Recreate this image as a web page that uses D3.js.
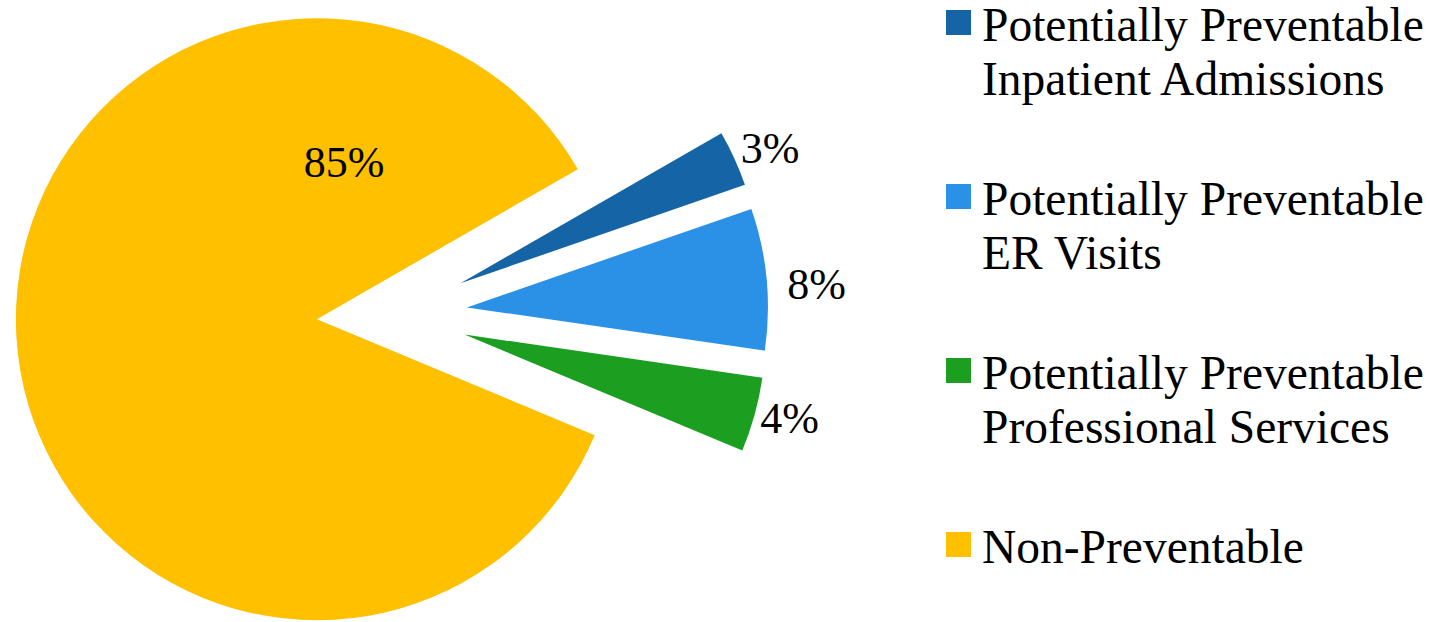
<!DOCTYPE html>
<html>
<head>
<meta charset="utf-8">
<script src="https://cdn.jsdelivr.net/npm/d3@7"></script>
<style>
  html, body { margin: 0; padding: 0; background: #fff; }
  svg { display: block; }
</style>
</head>
<body>
<svg id="chart" width="1440" height="622"></svg>
<script>
// ---- data ----
const categories = [
  "Potentially Preventable Inpatient Admissions",
  "Potentially Preventable ER Visits",
  "Potentially Preventable Professional Services",
  "Non-Preventable"
];
const legendLines = [
  ["Potentially Preventable", "Inpatient Admissions"],
  ["Potentially Preventable", "ER Visits"],
  ["Potentially Preventable", "Professional Services"],
  ["Non-Preventable"]
];
const values = [3.0, 7.6, 4.0, 85.4];
const valueLabels = ["3%", "8%", "4%", "85%"];
const colors = ["#1464A6", "#2A91E7", "#1C9F21", "#FFC000"];

// ---- layout ----
const FONT = "Liberation Serif";
const cx = 392, cy = 314.5, R = 301;
const explode = 0.25 * R;
const startDeg = 60.1;
const svg = d3.select("#chart");

const pie = d3.pie().sort(null).value(d => d)
  .startAngle(startDeg * Math.PI / 180)
  .endAngle(startDeg * Math.PI / 180 + 2 * Math.PI);
const arcs = pie(values);
const arc = d3.arc().innerRadius(0).outerRadius(R);

const unit = a => [Math.sin(a), -Math.cos(a)];

const g = svg.append("g").attr("transform", `translate(${cx},${cy})`);

const slices = g.selectAll("g.slice").data(arcs).enter().append("g")
  .attr("class", "slice")
  .attr("transform", d => {
    const m = (d.startAngle + d.endAngle) / 2;
    const [ux, uy] = unit(m);
    return `translate(${ux * explode},${uy * explode})`;
  });

slices.append("path")
  .attr("d", arc)
  .attr("fill", (d, i) => colors[i]);

// ---- data labels ----
const labelSize = 44;
const nudge = [[0, 0], [11, 8], [-3, -3], [0, 0]];
slices.each(function(d, i) {
  const sel = d3.select(this);
  const m = (d.startAngle + d.endAngle) / 2;
  let x, y;
  if (i < 3) {
    const [ux, uy] = unit(m);
    const w = valueLabels[i].length * 0.62 * labelSize + 4;
    const h = 0.68 * labelSize;
    x = ux * (R + 10) + ux * w / 2 + nudge[i][0];
    y = uy * (R + 10) + uy * h / 2 + nudge[i][1];
  } else {
    const a = d.endAngle - 50.3 * Math.PI / 180;
    const [ux, uy] = unit(a);
    x = ux * 0.53 * R;
    y = uy * 0.53 * R;
  }
  sel.append("text")
    .attr("x", x)
    .attr("y", y + 0.338 * labelSize)
    .attr("text-anchor", "middle")
    .attr("font-family", FONT)
    .attr("font-size", labelSize)
    .attr("fill", "#000")
    .text(valueLabels[i]);
});

// ---- legend ----
const legendX = 946, legendTop = 10, legendStep = 174, sw = 25;
const legendSize = 47.5, lineH = 54.5;
const lg = svg.append("g");
const items = lg.selectAll("g.item").data(categories).enter().append("g")
  .attr("class", "item")
  .attr("transform", (d, i) => `translate(${legendX},${legendTop + i * legendStep})`);
items.append("rect")
  .attr("width", sw).attr("height", sw)
  .attr("fill", (d, i) => colors[i]);
items.each(function(d, i) {
  const t = d3.select(this).append("text")
    .attr("x", 36)
    .attr("y", 30.5)
    .attr("font-family", FONT)
    .attr("font-size", legendSize)
    .attr("fill", "#000");
  legendLines[i].forEach((line, k) => {
    t.append("tspan").attr("x", 36).attr("dy", k === 0 ? 0 : lineH).text(line);
  });
});
</script>
</body>
</html>
